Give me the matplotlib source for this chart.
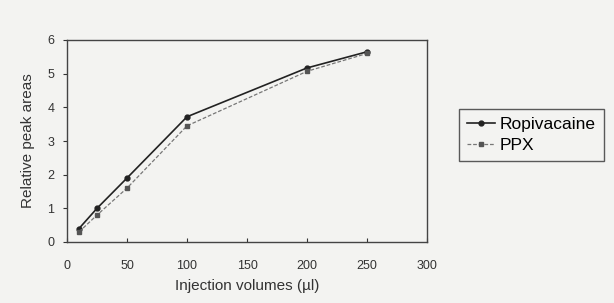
import numpy as np
import matplotlib.pyplot as plt

plt.rcParams['font.family'] = ['Liberation Sans', 'DejaVu Sans']

volumes = [10, 25, 50, 100, 200, 250]
ropivacaine = [0.4, 1.0, 1.9, 3.72, 5.17, 5.65]
ppx = [0.3, 0.8, 1.6, 3.45, 5.07, 5.6]
x_ticks = [0, 50, 100, 150, 200, 250, 300]
y_ticks = [0, 1, 2, 3, 4, 5, 6]

bg = '#f3f3f1'
fig = plt.figure(figsize=(6.14, 3.03), dpi=100, facecolor=bg)
ax = fig.add_axes([67 / 614, 1 - 242 / 303, 360 / 614, 202 / 303], facecolor=bg)

ax.plot(volumes, ropivacaine, color='#222222', lw=1.2, marker='o', ms=3.5, label='Ropivacaine')
ax.plot(volumes, ppx, color='#777777', lw=0.9, ls=(0, (3, 1.5)), marker='s', ms=3.5,
        mfc='#555555', mec='#555555', label='PPX')

ax.set_xlim(0, 300)
ax.set_ylim(0, 6)
ax.set_xticks(x_ticks)
ax.set_yticks(y_ticks)
ax.tick_params(labelsize=9, colors='#333333', length=3)
ax.tick_params(axis='x', direction='in', pad=13)
ax.tick_params(axis='y', pad=6)
for s in ax.spines.values():
    s.set_color('#444444')
    s.set_linewidth(1.0)

ax.set_xlabel('Injection volumes (µl)', fontsize=11, color='#333333', labelpad=5)
ax.set_ylabel('Relative peak areas', fontsize=11, color='#333333', labelpad=9)

leg = ax.legend(loc='center left', bbox_to_anchor=(1.065, 0.53), frameon=True,
                fancybox=False, fontsize=12.5, handlelength=1.6, borderpad=0.45,
                labelspacing=0.3, handletextpad=0.3, edgecolor='#333333')
leg.get_frame().set_facecolor(bg)
leg.get_frame().set_linewidth(1.0)

fig.savefig('out.png', dpi=100, facecolor=bg)
